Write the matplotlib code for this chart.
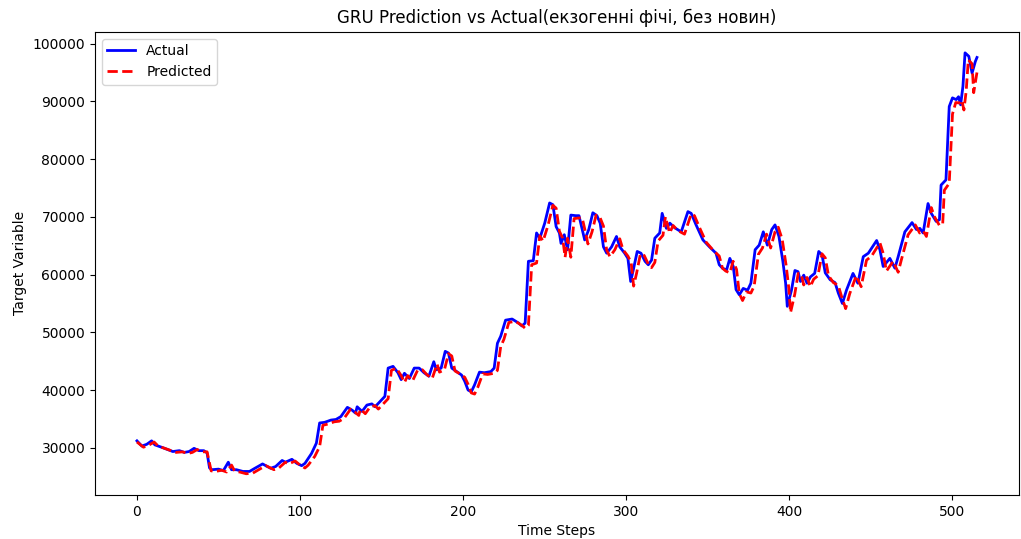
import matplotlib
matplotlib.use("Agg")
import matplotlib.pyplot as plt

# values (time step, target value)
actual_steps = [
    0, 3, 6, 9, 11, 16, 22, 26, 29, 32, 35, 38, 41, 43, 44.5, 46, 50, 53, 56, 58,
    61, 65, 69, 72, 77, 82, 85, 89, 91, 95, 98, 101, 103, 107, 110, 112, 115, 119,
    122, 125, 129, 132, 134, 135, 138, 141, 144, 146, 149, 152, 154, 157, 160, 162,
    164, 167, 170, 173, 176, 179, 182, 183.5, 186.5, 189, 191, 193, 196, 199, 201,
    203, 205, 207, 210, 213, 217, 219, 221, 223, 226, 230, 234, 236, 238, 240, 243,
    245, 247, 250, 253, 255, 257, 259, 260, 262, 264, 266, 269, 271, 273, 274.5,
    277, 279.5, 282, 284, 286, 288, 291, 294, 296, 299, 301, 302.7, 304.3, 306.7,
    309, 311.5, 313.5, 315.5, 317.5, 320.5, 322, 324.6, 326.7, 329.7, 333.7, 337.8,
    339.8, 342.8, 347, 351, 355, 357, 359, 361.5, 363.5, 365.6, 367.3, 369.3,
    371.7, 374.4, 376.4, 379, 381.5, 384, 386.5, 389.2, 391.2, 393.6, 396, 397.7,
    398.7, 401.3, 403.4, 405.3, 406.8, 408.8, 410.8, 412.9, 415.5, 418, 420, 422,
    425, 428, 430, 432.5, 435, 439, 442, 445.3, 448.4, 453.5, 455.5, 457.5, 461.6,
    464.7, 466.7, 470.8, 475.2, 477.9, 480, 482, 485, 487, 490, 492, 493, 496, 498,
    500, 502.3, 503.7, 505, 506.4, 507.7, 510, 512, 514, 515,
]
actual_values = [
    31200, 30300, 30600, 31200, 30500, 30000, 29350, 29500, 29200, 29350, 29900,
    29500, 29500, 29100, 26500, 26200, 26300, 26050, 27500, 26200, 26200, 25900,
    25900, 26400, 27200, 26450, 26750, 27800, 27500, 28000, 27300, 26900, 27300,
    29000, 30800, 34300, 34400, 34800, 34900, 35400, 37000, 36500, 36000, 37100,
    36300, 37400, 37600, 37100, 38000, 38900, 43800, 44100, 43000, 41800, 42900,
    42000, 43800, 43800, 43000, 42400, 44900, 43500, 43800, 46700, 46400, 43800,
    43200, 42600, 41500, 40000, 39700, 40900, 43100, 43000, 43200, 43800, 48100,
    49300, 52100, 52300, 51600, 51100, 51600, 62300, 62400, 67200, 66300, 68900,
    72400, 72100, 68300, 67200, 65400, 66900, 64300, 70300, 70200, 70200, 67800,
    66000, 67800, 70700, 70200, 68900, 64800, 63700, 64800, 66600, 64800, 63700,
    62800, 58800, 60800, 64000, 63700, 62300, 61700, 62500, 66300, 67200, 70600,
    68000, 68900, 68100, 67400, 70900, 70600, 68600, 66000, 64800, 63700, 61700,
    61100, 60800, 62800, 61400, 57400, 56500, 57600, 57300, 58500, 64300, 65100,
    67400, 65100, 67800, 68600, 66600, 62300, 58500, 54500, 57300, 60700, 60500,
    58800, 59900, 58500, 59600, 60200, 64000, 63400, 60300, 59100, 58600, 56800,
    55000, 57300, 60200, 58500, 63100, 63700, 65900, 64300, 61400, 62800, 61100,
    63100, 67400, 69000, 67800, 68000, 67200, 72300, 70600, 69200, 69500, 75500,
    76400, 89100, 90600, 90300, 90800, 89400, 92600, 98400, 97800, 94900, 96900,
    97600,
]

pred_steps = [
    0, 4, 7, 10.5, 13, 18, 24, 28, 31, 34, 37, 40, 43, 45.5, 48, 52, 55, 58, 60,
    63, 67, 71, 74, 79, 84, 87, 91, 93, 97, 100, 103, 105, 109, 112, 114, 117, 121,
    124, 127, 131, 134, 136, 137, 140, 143, 146, 148, 151, 154, 156, 159, 162, 164,
    166, 169, 172, 175, 178, 181, 184, 185.5, 188.5, 191, 193, 195, 198, 201, 203,
    205, 207, 209, 212, 215, 219, 221, 223, 225, 228, 232, 236, 238, 240, 242, 245,
    247, 249, 252, 255, 257, 259, 261, 262.5, 264, 266, 268, 271, 273, 275, 276.5,
    279, 281.5, 284, 286, 288, 290, 293, 296, 298, 301, 303, 304.5, 306.3, 308.7,
    311, 313.5, 315.5, 317.5, 319.5, 322.5, 324, 326.6, 328.7, 331.7, 335.7, 339.8,
    341.8, 344.8, 349, 353, 357, 359, 361, 363.5, 365.5, 367.6, 369.3, 371.3,
    373.7, 376.4, 378.4, 381, 383.5, 386, 388.5, 391.2, 393.2, 395.6, 398, 399.7,
    400.7, 403.3, 405.4, 407.3, 408.8, 410.8, 412.8, 414.9, 417.5, 420, 422, 424,
    427, 430, 432, 434.5, 437, 441, 444, 447.3, 450.4, 455.5, 457.5, 459.5, 463.6,
    466.7, 468.7, 472.8, 477.2, 479.9, 482, 484, 487, 489, 492, 494, 495, 498, 500,
    502, 504.3, 505.7, 507, 508.4, 509.7, 512, 513, 515,
]
pred_values = [
    31000, 30100, 30400, 31000, 30300, 29800, 29200, 29300, 29000, 29200, 29700,
    29300, 29300, 26000, 25900, 26100, 25800, 27000, 25900, 25800, 25500, 25600,
    26100, 26900, 26200, 26500, 27500, 27200, 27700, 27000, 26500, 27000, 28500,
    30200, 33900, 34100, 34500, 34600, 35100, 36700, 36100, 35600, 36700, 35900,
    37100, 37300, 36700, 37600, 38500, 43400, 43800, 42500, 41300, 42500, 41600,
    43400, 43500, 42600, 42000, 44500, 43100, 43500, 46300, 45900, 43300, 42800,
    42200, 41000, 39500, 39300, 40500, 42800, 42700, 42900, 43400, 47500, 48800,
    51700, 51900, 51200, 50700, 51200, 61700, 62000, 66700, 65800, 68500, 72000,
    71500, 67500, 66300, 63000, 66300, 63000, 69700, 69800, 69800, 67300, 65300,
    67400, 70300, 69800, 68400, 64200, 63100, 64300, 66200, 64300, 63200, 62100,
    58000, 60200, 63600, 63300, 61800, 61200, 62100, 65800, 66800, 70000, 67200,
    68500, 67600, 67000, 70500, 70200, 68200, 65600, 64300, 63200, 61100, 60600,
    60300, 62300, 60900, 56700, 55500, 57000, 56800, 58000, 63500, 64600, 67000,
    64600, 67400, 68200, 66100, 61600, 57500, 53400, 56600, 60200, 60000, 58200,
    59500, 57900, 59200, 59800, 63600, 62900, 59800, 58600, 58100, 56200, 54100,
    56700, 59800, 57900, 62500, 63200, 65500, 63700, 60600, 62300, 60400, 62600,
    66900, 68600, 67200, 67600, 66600, 71600, 70000, 68500, 68800, 74600, 75800,
    87800, 89800, 89700, 90200, 88500, 91800, 97200, 96500, 91500, 95000,
]

fig = plt.figure(figsize=(10.21, 5.39), dpi=100)
ax = fig.add_axes([0.093, 0.082, 0.905, 0.859])

ax.plot(actual_steps, actual_values, color="blue", linewidth=2, label="Actual")
ax.plot(pred_steps, pred_values, color="red", linestyle="--", linewidth=2,
        label="Predicted")

ax.set_title("GRU Prediction vs Actual(екзогенні фічі, без новин)", fontsize=12)
ax.set_xlabel("Time Steps", fontsize=10)
ax.set_ylabel("Target Variable", fontsize=10)
ax.tick_params(labelsize=10)
ax.legend(loc="upper left", fontsize=10)

fig.savefig("out.png", dpi=100)
